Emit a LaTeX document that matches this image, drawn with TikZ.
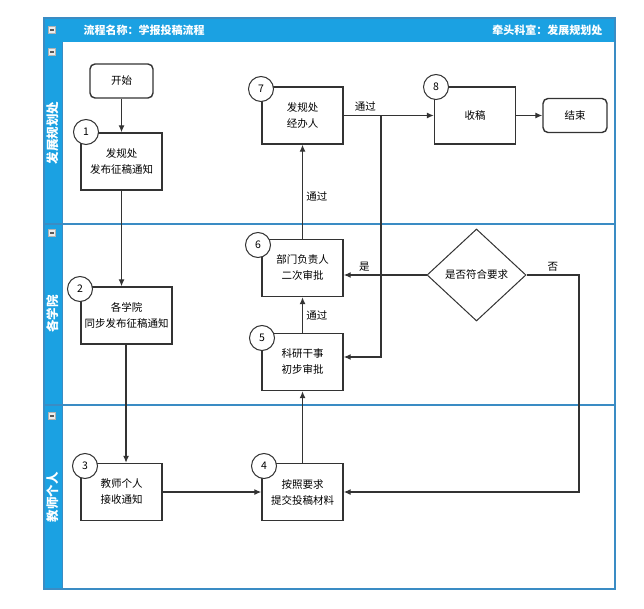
\documentclass[tikz,border=0pt]{standalone}
\usepackage{fontspec}
\setmainfont{Noto Sans CJK SC}
\usetikzlibrary{shapes.geometric, arrows.meta}
\definecolor{laneblue}{HTML}{1BA1E2}
\definecolor{lineblue}{HTML}{3A8CC4}
\definecolor{boxgray}{HTML}{333333}
\tikzset{
	taskbox/.style = {draw = boxgray, line width = 1.4pt, fill = white, minimum width = 81pt, minimum height = 57pt, align = center, font = \fontsize{10.5}{16}\selectfont},
	termbox/.style = {taskbox, rounded corners = 5pt, minimum width = 63pt, minimum height = 34pt},
	stepnum/.style = {circle, draw = boxgray, line width = 1pt, fill = white, minimum size = 25pt, inner sep = 0pt, font = \fontsize{10.5}{12}\selectfont},
	decision/.style = {diamond, draw = boxgray, line width = 1pt, inner sep = 0pt, minimum width = 99pt, minimum height = 92pt, aspect = 1.07, font = \fontsize{10.5}{12}\selectfont},
	flow/.style = {draw = boxgray, line width = 1.2pt},
	flowlabel/.style = {font = \fontsize{10.5}{12}\selectfont},
	lanetext/.style = {text = white, font = \fontsize{11}{12}\selectfont\bfseries},
	icon/.style = {draw = gray!60, fill = gray!15, minimum width = 7pt, minimum height = 7pt, inner sep = 0pt, path picture = {\draw[gray!70!black, line width = 1.2pt] ([xshift = 1.5pt]path picture bounding box.west) -- ([xshift = -1.5pt]path picture bounding box.east);}}
}
\begin{document}
\begin{tikzpicture}[x = 1pt, y = -1pt, >= {Latex[length = 7pt, width = 6pt]}]
	\useasboundingbox (0, 0) rectangle (644, 609);
	\fill[laneblue] (44, 18) rectangle (615, 42);
	\fill[laneblue] (44, 42) rectangle (62, 589);
	\draw[lineblue, line width = 1.2pt] (44, 18) rectangle (615, 589);
	\draw[lineblue, line width = 1.2pt] (44, 224) -- (615, 224);
	\draw[lineblue, line width = 1.2pt] (44, 405) -- (615, 405);
	\draw[lineblue, line width = 1pt] (62, 42) -- (62, 589);
	\node[icon] (ichead) at (52, 30) {};
	\node[icon] (icfz) at (52, 52) {};
	\node[icon] (icxy) at (52, 233) {};
	\node[icon] (icjs) at (52, 416) {};
	\node[lanetext, anchor = west] (title) at (80, 30) {流程名称：学报投稿流程};
	\node[lanetext, anchor = east] (lead) at (606, 30) {牵头科室：发展规划处};
	\node[lanetext, rotate = 90, font = \fontsize{12.5}{14}\selectfont\bfseries] (lanefz) at (53, 133) {发展规划处};
	\node[lanetext, rotate = 90, font = \fontsize{12.5}{14}\selectfont\bfseries] (lanexy) at (53, 314) {各学院};
	\node[lanetext, rotate = 90, font = \fontsize{12.5}{14}\selectfont\bfseries] (lanejs) at (53, 497) {教师个人};

	\node[termbox] (start) at (121.5, 81) {开始};
	\node[taskbox] (b1) at (121.5, 161.5) {发规处\\发布征稿通知};
	\node[taskbox, minimum width = 91pt] (b2) at (126.5, 315.5) {各学院\\同步发布征稿通知};
	\node[taskbox] (b3) at (121.5, 492) {教师个人\\接收通知};
	\node[taskbox] (b4) at (302.5, 492) {按照要求\\提交投稿材料};
	\node[taskbox] (b5) at (302.5, 362) {科研干事\\初步审批};
	\node[taskbox] (b6) at (302.5, 268) {部门负责人\\二次审批};
	\node[taskbox] (b7) at (302.5, 115.5) {发规处\\经办人};
	\node[taskbox] (b8) at (475, 115.5) {收稿};
	\node[termbox, minimum width = 64pt] (end) at (575, 115.5) {结束};
	\node[decision] (check) at (476.5, 275) {是否符合要求};

	\node[stepnum] (c1) at (86, 132) {1};
	\node[stepnum] (c2) at (80, 289) {2};
	\node[stepnum] (c3) at (85, 466) {3};
	\node[stepnum] (c4) at (264, 466) {4};
	\node[stepnum] (c5) at (262, 338) {5};
	\node[stepnum] (c6) at (258, 245) {6};
	\node[stepnum] (c7) at (261, 89) {7};
	\node[stepnum] (c8) at (436, 87) {8};

	\coordinate (split) at (381, 115.5);
	\coordinate (nobend) at (579, 275);
	\draw[flow, ->] (start) -- (b1);
	\draw[flow, ->] (b1.south) -- (b1.south |- b2.north);
	\draw[flow, ->] (b2.south -| b3.north) ++(4.5, 0) coordinate (b2out) -- (b2out |- b3.north);
	\draw[flow, ->] (b3.east) -- (b4.west);
	\draw[flow, ->] (b4) -- (b5);
	\draw[flow, ->] (b5) -- node[right, flowlabel] {通过} (b6);
	\draw[flow, ->] (b6) -- node[right, pos = 0.45, flowlabel] {通过} (b7);
	\draw[flow, ->] (b7.east) -- node[above, pos = 0.24, flowlabel] {通过} (b8.west);
	\draw[flow, ->] (b8) -- (end);
	\draw[flow, ->] (split) |- ([yshift = 5pt]b5.east);
	\draw[flow, ->] (check.west) -- node[above, pos = 0.75, flowlabel] {是} (b6.east |- check.west);
	\draw[flow, ->] (check.east) -- node[above, flowlabel] {否} (nobend) |- (b4.east);
\end{tikzpicture}
\end{document}
